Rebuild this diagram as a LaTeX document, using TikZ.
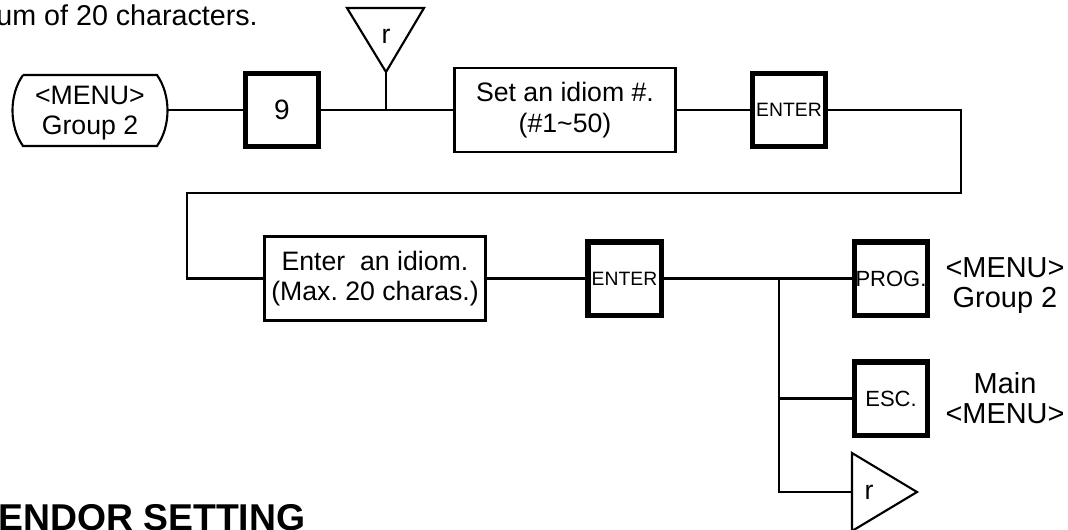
\documentclass[tikz,border=0pt]{standalone}
\usepackage{fontspec}
\setmainfont{Liberation Sans}
\frenchspacing
\begin{document}
\begin{tikzpicture}[x=0.75pt,y=-0.75pt,
  conn/.style={line width=1.6pt},
  outl/.style={line width=1.6pt, line join=miter},
  keybox/.style={draw, line width=4pt, minimum width=55pt, minimum height=55pt, inner sep=0pt},
  procbox/.style={draw, line width=1.8pt, minimum width=166pt, minimum height=63pt, align=center,
    font=\fontsize{20}{23}\selectfont, inner sep=0pt},
  lbl/.style={align=center, font=\fontsize{21.7}{22.5}\selectfont, inner sep=0pt},
  txt/.style={inner sep=0pt, font=\fontsize{20}{22.5}\selectfont}]
\useasboundingbox (0,0) rectangle (1068,529);

% top cut text
\node[anchor=base east, inner sep=0pt, font=\fontsize{21.5}{24}\selectfont] (toptext) at (258,25) {um of 20 characters.};

% left terminal
\draw[outl] (23,75) -- (157,75) .. controls (171,95) and (171,126) .. (157,146)
  -- (23,146) .. controls (9,126) and (9,95) .. (23,75);
\node[txt, align=center] (menu) at (90,113) {<MENU>\\Group 2};
\coordinate (menuE) at (167.5,110);

% row 1
\node[keybox, font=\fontsize{21}{24}\selectfont] (nine) at (282,110) {9};
\node[procbox] (setbox) at (565,110) {Set an idiom \#.\\(\#1\textasciitilde 50)};
\node[keybox, font=\fontsize{14.5}{16}\selectfont] (enter1) at (789,110) {ENTER};

% top return triangle
\coordinate (j1) at (386,110);
\coordinate (rtip) at (386,72);
\draw[outl] (347,8) -- (424,8) -- (rtip) -- cycle;
\node[txt] (rtop) at (386,36) {r};

\draw[conn] (menuE) -- (nine.west);
\draw[conn] (nine.east) -- (setbox.west);
\draw[conn] (j1) -- (rtip);
\draw[conn] (setbox.east) -- (enter1.west);

% row 2
\node[procbox] (idiom) at (375,278.5) {Enter\ \ an idiom.\\(Max. 20 charas.)};
\node[keybox, font=\fontsize{14.5}{16}\selectfont] (enter2) at (624.5,278.5) {ENTER};
\node[keybox, font=\fontsize{16.5}{18}\selectfont] (prog) at (891,278.5) {PROG.};
\node[keybox, font=\fontsize{16.5}{18}\selectfont] (esc) at (891,398.5) {ESC.};

\coordinate (c1) at (961,193);
\coordinate (c2) at (187,193);
\draw[conn] (enter1.east) -| (c1) -- (c2) |- (idiom.west);
\draw[conn] (idiom.east) -- (enter2.west);
\draw[conn] (enter2.east) -- (prog.west);

\coordinate (j2) at (779,278.5);
\coordinate (rl) at (852,492);
\draw[outl] (852,453) -- (917,492) -- (852,531) -- cycle;
\node[txt] (rright) at (869,492) {r};
\draw[conn] (j2) |- (esc.west);
\draw[conn] (j2) |- (rl);

% right labels
\node[lbl] (lab1) at (1005,285.5) {<MENU>\\Group 2};
\node[lbl] (lab2) at (1005,398.5) {Main\\<MENU>};

% bottom heading
\node[anchor=base west, inner sep=0pt, font=\bfseries\fontsize{28}{30}\selectfont] (title) at (-2,530) {ENDOR SETTING};
\end{tikzpicture}
\end{document}
